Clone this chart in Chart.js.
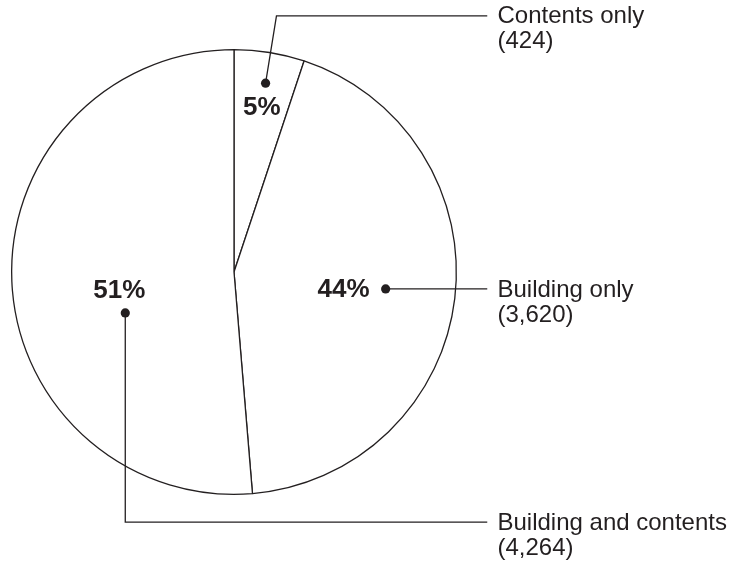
<!DOCTYPE html>
<html>
<head>
<meta charset="utf-8">
<script src="https://cdn.jsdelivr.net/npm/chart.js@4.4.1/dist/chart.umd.min.js"></script>
<style>
  html, body { margin: 0; padding: 0; background: #fff; }
  #wrap { width: 737px; height: 570px; position: relative; }
</style>
</head>
<body>
<div id="wrap"><canvas id="pieChart"></canvas></div>
<script>
  const categories = ['Contents only', 'Building only', 'Building and contents'];
  const counts = [424, 3620, 4264];
  const countLabels = ['(424)', '(3,620)', '(4,264)'];

  const ink = '#231f20';
  const total = counts.reduce((a, b) => a + b, 0);

  // where each annotation sits, in units of the pie radius from its centre
  const annot = [
    { pct: [0.125, -0.740], dot: [0.142, -0.849], path: 'up', elbowX: 0.191, lineY: -1.152 },
    { pct: [0.493, 0.081], dot: [0.682, 0.076], path: 'right' },
    { pct: [-0.516, 0.085], dot: [-0.489, 0.184], path: 'down', lineY: 1.125 }
  ];
  const lineEndX = 1.139;
  const textX = 1.185;

  const calloutPlugin = {
    id: 'callouts',
    afterDatasetsDraw(chart) {
      const ctx = chart.ctx;
      const arcs = chart.getDatasetMeta(0).data;
      ctx.save();
      arcs.forEach((arc, i) => {
        const cx = arc.x, cy = arc.y, r = arc.outerRadius;
        const a = annot[i];
        const px = v => cx + v * r;
        const py = v => cy + v * r;
        const dx = px(a.dot[0]), dy = py(a.dot[1]);

        // leader line
        ctx.strokeStyle = ink;
        ctx.lineWidth = 1.3;
        ctx.beginPath();
        ctx.moveTo(dx, dy);
        let ly;
        if (a.path === 'up') {
          ly = py(a.lineY);
          ctx.lineTo(px(a.elbowX), ly);
        } else if (a.path === 'down') {
          ly = py(a.lineY);
          ctx.lineTo(dx, ly);
        } else {
          ly = dy;
        }
        ctx.lineTo(px(lineEndX), ly);
        ctx.stroke();

        // dot
        ctx.fillStyle = ink;
        ctx.beginPath();
        ctx.arc(dx, dy, 4.6, 0, Math.PI * 2);
        ctx.fill();

        // percentage
        ctx.font = 'bold 26px "Liberation Sans", Arial, Helvetica, sans-serif';
        ctx.textAlign = 'center';
        ctx.textBaseline = 'middle';
        const pct = Math.round(counts[i] / total * 100) + '%';
        ctx.fillText(pct, px(a.pct[0]), py(a.pct[1]));

        // category text
        ctx.font = '24px "Liberation Sans", Arial, Helvetica, sans-serif';
        ctx.textAlign = 'left';
        ctx.fillText(categories[i], px(textX), ly + 1);
        ctx.fillText(countLabels[i], px(textX), ly + 26);
      });
      ctx.restore();
    }
  };

  const ctx = document.getElementById('pieChart').getContext('2d');
  const pieChart = new Chart(ctx, {
    type: 'pie',
    data: {
      labels: categories,
      datasets: [{
        data: counts,
        backgroundColor: '#ffffff',
        borderColor: ink,
        borderWidth: 1.3
      }]
    },
    options: {
      responsive: true,
      maintainAspectRatio: false,
      animation: false,
      layout: {
        padding: { left: 11, right: 280, top: 49, bottom: 75 }
      },
      plugins: {
        legend: { display: false },
        tooltip: { enabled: false }
      }
    },
    plugins: [calloutPlugin]
  });
</script>
</body>
</html>
